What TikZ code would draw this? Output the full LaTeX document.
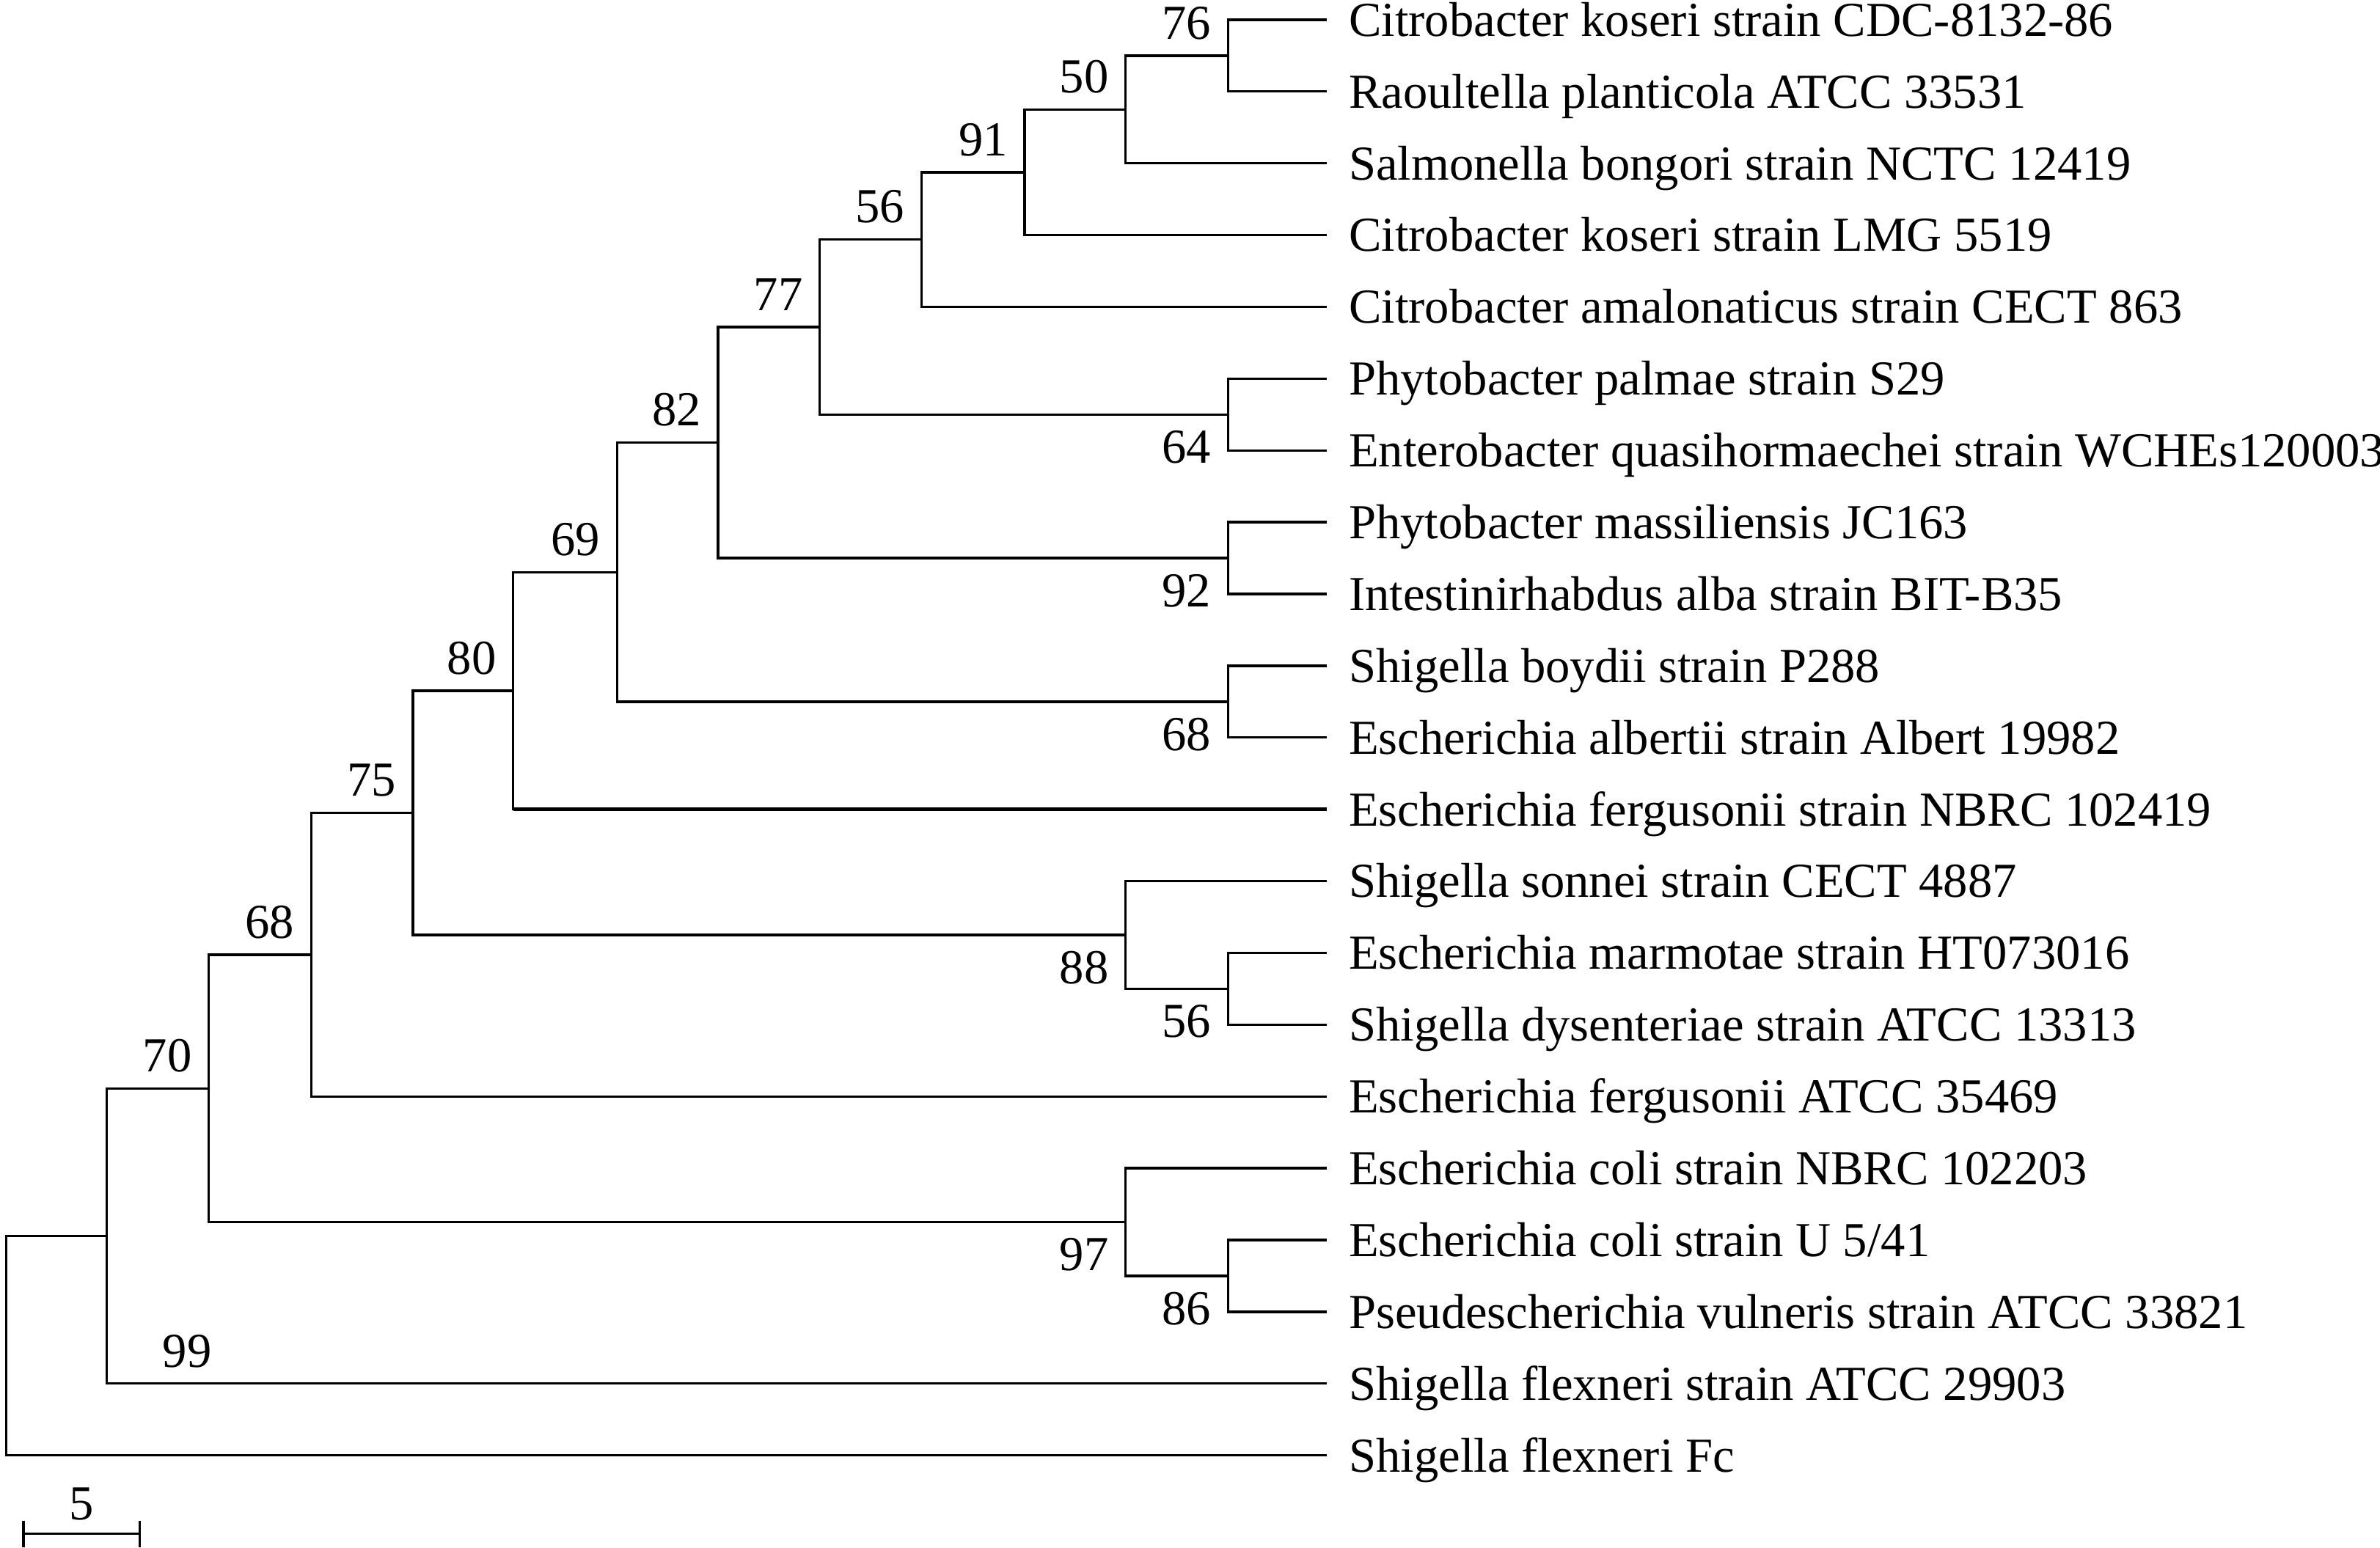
\documentclass[tikz,border=0pt]{standalone}
\usepackage{fontspec}
\setmainfont{Liberation Serif}
\usetikzlibrary{calc}

\begin{document}
\begin{tikzpicture}[x=1pt,y=-1pt,
    branch/.style={line width=1.6pt},
    taxon/.style={anchor=base west, inner sep=0pt, font=\fontsize{32.2}{36}\selectfont},
    bootup/.style={anchor=base east, inner sep=0pt, xshift=-11pt, yshift=11pt, font=\fontsize{32.2}{36}\selectfont},
    bootdown/.style={anchor=base east, inner sep=0pt, xshift=-11pt, yshift=-32pt, font=\fontsize{32.2}{36}\selectfont}]
    \useasboundingbox (0,0) rectangle (1568,1020);

    % Tips and taxon names
    \foreach \name [count=\i] in {Citrobacter koseri strain CDC-8132-86,
        Raoultella planticola ATCC 33531,
        Salmonella bongori strain NCTC 12419,
        Citrobacter koseri strain LMG 5519,
        Citrobacter amalonaticus strain CECT 863,
        Phytobacter palmae strain S29,
        Enterobacter quasihormaechei strain WCHEs120003,
        Phytobacter massiliensis JC163,
        Intestinirhabdus alba strain BIT-B35,
        Shigella boydii strain P288,
        Escherichia albertii strain Albert 19982,
        Escherichia fergusonii strain NBRC 102419,
        Shigella sonnei strain CECT 4887,
        Escherichia marmotae strain HT073016,
        Shigella dysenteriae strain ATCC 13313,
        Escherichia fergusonii ATCC 35469,
        Escherichia coli strain NBRC 102203,
        {Escherichia coli strain U 5/41},
        Pseudescherichia vulneris strain ATCC 33821,
        Shigella flexneri strain ATCC 29903,
        Shigella flexneri Fc} {
        \coordinate (t\i) at (874,{13+(\i-1)*47.3});
        \node[taxon] (l\i) at ([xshift=14.5pt,yshift=-10.8pt]t\i) {\name};
    }

    % Internal nodes
    \coordinate (n76) at (809,36.65);
    \coordinate (n50) at (741.5,72.13);
    \coordinate (n91) at (675,113.51);
    \coordinate (n56a) at (607,157.86);
    \coordinate (n64) at (809,273.15);
    \coordinate (n77) at (540,215.5);
    \coordinate (n92) at (809,367.75);
    \coordinate (n82) at (473,291.63);
    \coordinate (n68a) at (809,462.35);
    \coordinate (n69) at (406.5,376.99);
    \coordinate (n80) at (338,455.15);
    \coordinate (n56b) at (809,651.55);
    \coordinate (n88) at (741.5,616.08);
    \coordinate (n75) at (272,535.6);
    \coordinate (n68b) at (205,629.05);
    \coordinate (n86) at (809,840.75);
    \coordinate (n97) at (741.5,805.28);
    \coordinate (n70) at (137.5,717.16);
    \coordinate (n99) at (70.4,814.43);
    \coordinate (root) at (4,886.7);

    % Branches
    \foreach \p/\c in {n76/t1,n76/t2,n50/n76,n50/t3,n91/n50,n91/t4,n56a/n91,n56a/t5,
        n64/t6,n64/t7,n77/n56a,n77/n64,n92/t8,n92/t9,n82/n77,n82/n92,
        n68a/t10,n68a/t11,n69/n82,n69/n68a,n80/n69,n80/t12,
        n56b/t14,n56b/t15,n88/t13,n88/n56b,n75/n80,n75/n88,n68b/n75,n68b/t16,
        n86/t18,n86/t19,n97/t17,n97/n86,n70/n68b,n70/n97,n99/n70,n99/t20,
        root/n99,root/t21}
        \draw[branch] (\p) |- (\c);
    \draw[line width=2.3pt] (n80 |- t12) -- (t12);

    % Bootstrap values
    \foreach \n/\v in {n76/76,n50/50,n91/91,n56a/56,n77/77,n82/82,n69/69,
        n80/80,n75/75,n68b/68,n70/70}
        \node[bootup] (b\n) at (\n) {\v};
    \foreach \n/\v in {n64/64,n92/92,n68a/68,n88/88,n56b/56,n97/97,n86/86}
        \node[bootdown] (b\n) at (\n) {\v};
    \node[taxon, xshift=36.6pt, yshift=11pt] (bn99) at (n99 |- t20) {99};

    % Scale bar
    \coordinate (sbl) at (15.5,1010.7);
    \coordinate (sbr) at (92,1010.7);
    \draw[branch] (sbl) -- (sbr);
    \draw[branch] ([yshift=8.7pt]sbl) -- ([yshift=-8.7pt]sbl);
    \draw[branch] ([yshift=8.7pt]sbr) -- ([yshift=-8.7pt]sbr);
    \node[anchor=base, inner sep=0pt, font=\fontsize{32.2}{36}\selectfont] (sblab)
        at ([yshift=9.5pt]$(sbl)!0.5!(sbr)$) {5};
\end{tikzpicture}
\end{document}
